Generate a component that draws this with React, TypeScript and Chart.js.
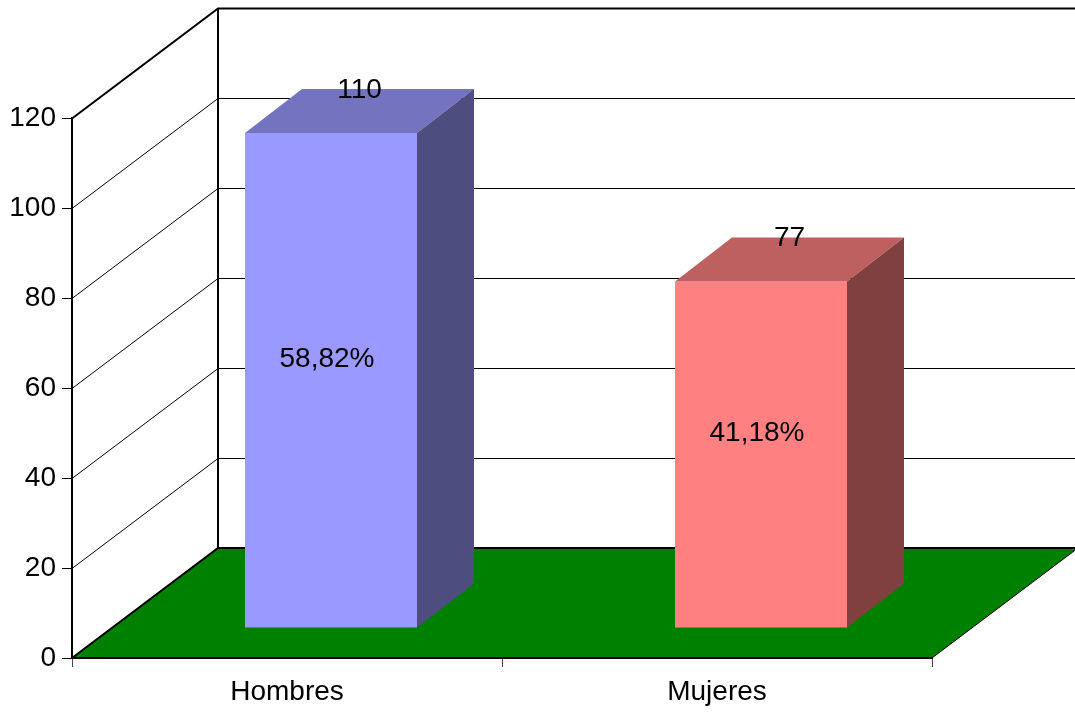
import React, { useEffect, useRef } from 'react';
import { Chart, registerables } from 'chart.js';

Chart.register(...registerables);

const categories = ['Hombres', 'Mujeres'];
const values = [110, 77];
const yTickValues = [0, 20, 40, 60, 80, 100, 120];
const frontColors = ['#9999FF', '#FF8080'];
const topColors = ['#7373BF', '#BF6060'];
const sideColors = ['#4D4D80', '#804040'];

const W = 1075;
const H = 713;
const DEPTH_X = 146;
const DEPTH_Y = 110;
const BAR_SHIFT_X = 44;
const BAR_SHIFT_Y = 30;
const BAR_DX = 57;
const BAR_DY = 44;
const FAMILY = '"Liberation Sans", Arial, sans-serif';
const FONT_SIZE = 28;
const FONT = FONT_SIZE + 'px ' + FAMILY;

const total = values.reduce((s, v) => s + v, 0);
const percentLabels = values.map((v) => ((v / total) * 100).toFixed(2).replace('.', ',') + '%');

const threeD = {
  id: 'threeD',
  beforeDraw(chart: any) {
    const { ctx, chartArea: a, scales } = chart;
    const ys = scales.y;
    ctx.save();
    ctx.strokeStyle = '#000';
    yTickValues.forEach((v, i) => {
      if (i === 0) return;
      const py = Math.round(ys.getPixelForValue(v)) + 0.5;
      const last = i === yTickValues.length - 1;
      ctx.lineWidth = last ? 2 : 1;
      ctx.beginPath();
      ctx.moveTo(a.left, py);
      ctx.lineTo(a.left + DEPTH_X, py - DEPTH_Y);
      ctx.lineTo(W + 10, py - DEPTH_Y);
      ctx.stroke();
    });
    const topBack = ys.getPixelForValue(yTickValues[yTickValues.length - 1]) - DEPTH_Y;
    ctx.lineWidth = 2;
    ctx.beginPath();
    ctx.moveTo(a.left + DEPTH_X, topBack);
    ctx.lineTo(a.left + DEPTH_X, a.bottom - DEPTH_Y);
    ctx.stroke();
    ctx.beginPath();
    ctx.moveTo(a.left, a.bottom);
    ctx.lineTo(a.right, a.bottom);
    ctx.lineTo(a.right + DEPTH_X, a.bottom - DEPTH_Y);
    ctx.lineTo(a.left + DEPTH_X, a.bottom - DEPTH_Y);
    ctx.closePath();
    ctx.fillStyle = '#008000';
    ctx.fill();
    ctx.lineWidth = 1;
    ctx.stroke();
    ctx.lineWidth = 2;
    ctx.beginPath();
    ctx.moveTo(a.left, a.bottom);
    ctx.lineTo(a.left + DEPTH_X, a.bottom - DEPTH_Y);
    ctx.lineTo(W + 10, a.bottom - DEPTH_Y);
    ctx.stroke();
    ctx.restore();
  },
  afterDatasetsDraw(chart: any) {
    const { ctx } = chart;
    const meta = chart.getDatasetMeta(0);
    ctx.save();
    meta.data.forEach((el: any, i: number) => {
      const p = el.getProps(['x', 'y', 'base', 'width'], true);
      const left = p.x - p.width / 2 + BAR_SHIFT_X;
      const right = p.x + p.width / 2 + BAR_SHIFT_X;
      const top = p.y - BAR_SHIFT_Y;
      const bottom = p.base - BAR_SHIFT_Y;
      ctx.fillStyle = frontColors[i];
      ctx.fillRect(left, top, right - left, bottom - top);
      ctx.fillStyle = topColors[i];
      ctx.beginPath();
      ctx.moveTo(left, top);
      ctx.lineTo(left + BAR_DX, top - BAR_DY);
      ctx.lineTo(right + BAR_DX, top - BAR_DY);
      ctx.lineTo(right, top);
      ctx.closePath();
      ctx.fill();
      ctx.fillStyle = sideColors[i];
      ctx.beginPath();
      ctx.moveTo(right, top);
      ctx.lineTo(right + BAR_DX, top - BAR_DY);
      ctx.lineTo(right + BAR_DX, bottom - BAR_DY);
      ctx.lineTo(right, bottom);
      ctx.closePath();
      ctx.fill();
      ctx.fillStyle = '#000';
      ctx.font = FONT;
      ctx.textAlign = 'center';
      ctx.textBaseline = 'middle';
      ctx.fillText(String(values[i]), (left + right) / 2 + BAR_DX / 2, top - BAR_DY + 1);
      ctx.fillText(percentLabels[i], (left + right) / 2 - 4, (top + bottom) / 2 - BAR_DY / 2 + 1);
    });
    ctx.restore();
  },
};

export default function App() {
  const ref = useRef<HTMLCanvasElement | null>(null);
  useEffect(() => {
    document.body.style.margin = '0';
    const canvas = ref.current;
    if (!canvas) return;
    const chart = new Chart(canvas, {
      type: 'bar',
      data: {
        labels: categories,
        datasets: [
          {
            data: values,
            backgroundColor: 'rgba(0,0,0,0)',
            borderWidth: 0,
            barPercentage: 0.4,
            categoryPercentage: 1,
          },
        ],
      },
      options: {
        responsive: false,
        animation: false,
        devicePixelRatio: 1,
        layout: { padding: { top: 118, right: 143, left: 0, bottom: 0 } },
        plugins: { legend: { display: false }, tooltip: { enabled: false } },
        scales: {
          x: {
            offset: true,
            grid: { offset: true, drawOnChartArea: false, color: '#444', tickLength: 9, tickWidth: 1 },
            border: { color: '#000', width: 2 },
            ticks: { color: '#000', font: { family: FAMILY, size: FONT_SIZE }, padding: 8, maxRotation: 0 },
            afterFit: (scale: any) => {
              scale.height = H - 658;
            },
          },
          y: {
            min: 0,
            max: 120,
            ticks: { stepSize: 20, color: '#000', font: { family: FAMILY, size: FONT_SIZE }, padding: 6 },
            grid: { drawOnChartArea: false, color: '#000', tickLength: 10, tickWidth: 1 },
            border: { color: '#000', width: 2 },
            afterFit: (scale: any) => {
              scale.width = 72;
            },
          },
        },
      },
      plugins: [threeD],
    });
    return () => chart.destroy();
  }, []);
  return <canvas ref={ref} width={W} height={H} style={{ display: 'block' }} />;
}
